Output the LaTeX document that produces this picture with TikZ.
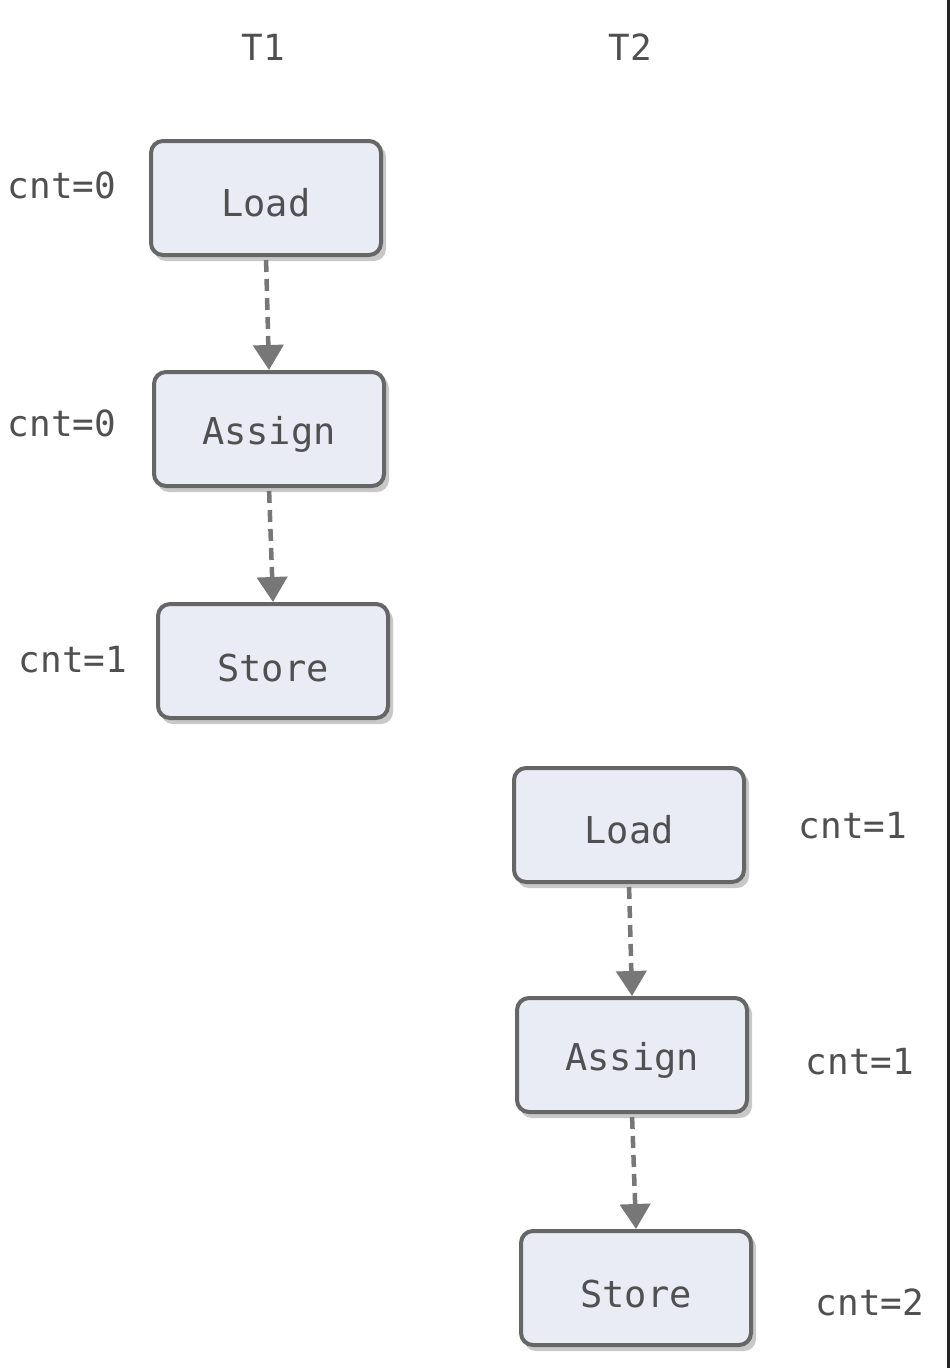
\documentclass[tikz,border=0pt]{standalone}
\usepackage{fontspec}
\setmonofont{DejaVu Sans Mono}
\usetikzlibrary{arrows.meta}
\definecolor{boxfill}{HTML}{E9ECF5}
\definecolor{boxline}{HTML}{666666}
\definecolor{txt}{HTML}{505050}
\definecolor{arr}{HTML}{777777}
\definecolor{shad}{HTML}{C8C8C8}
\tikzset{
  opbox/.style={draw=boxline, fill=boxfill, line width=4pt, rounded corners=12pt,
    minimum width=230pt, minimum height=114pt, inner sep=0pt},
  boxtxt/.style={font=\ttfamily\fontsize{37}{40}\selectfont, text=txt, inner sep=0pt},
  opshadow/.style={fill=shad, rounded corners=12pt, minimum width=232pt, minimum height=116pt, inner sep=0pt},
  lbl/.style={font=\ttfamily\fontsize{36}{40}\selectfont, text=txt, inner sep=0pt},
  flow/.style={draw=arr, line width=4.5pt, dash pattern=on 12pt off 7pt,
    -{Triangle[width=30pt,length=25pt]}, shorten <=3pt},
}
\begin{document}
\begin{tikzpicture}[x=1pt,y=-1pt]
\useasboundingbox (0,0) rectangle (950,1368);
\fill[white] (0,0) rectangle (950,1368);
\fill[black!85] (947,0) rectangle (950,1368);

% headers
\node[lbl] (t1) at (263,47) {T1};
\node[lbl] (t2) at (630,47) {T2};

% shadows
\foreach \x/\y in {266/198, 269/429, 273/661, 629/825, 632/1055, 636/1288}
  \node[opshadow] at (\x+4,\y+5) {};

% boxes
\node[opbox] (l1) at (266,198) {};
\node[opbox] (a1) at (269,429) {};
\node[opbox] (s1) at (273,661) {};
\node[opbox] (l2) at (629,825) {};
\node[opbox] (a2) at (632,1055) {};
\node[opbox] (s2) at (636,1288) {};

% box texts
\node[boxtxt] (l1t) at ([yshift=-5pt]l1.center) {Load};
\node[boxtxt] (a1t) at ([yshift=-5pt]a1.center) {Assign};
\node[boxtxt] (s1t) at ([yshift=-7pt]s1.center) {Store};
\node[boxtxt] (l2t) at ([yshift=-5pt]l2.center) {Load};
\node[boxtxt] (a2t) at ([yshift=-5pt]a2.center) {Assign};
\node[boxtxt] (s2t) at ([yshift=-6pt]s2.center) {Store};

% arrows
\draw[flow] (l1.south) -- (a1.north);
\draw[flow] (a1.south) -- (s1.north);
\draw[flow] (l2.south) -- (a2.north);
\draw[flow] (a2.south) -- (s2.north);

% labels
\node[lbl] (c1) at (62,185) {cnt=0};
\node[lbl] (c2) at (62,423) {cnt=0};
\node[lbl] (c3) at (73,660) {cnt=1};
\node[lbl] (c4) at (853,826) {cnt=1};
\node[lbl] (c5) at (860,1062) {cnt=1};
\node[lbl] (c6) at (870,1302) {cnt=2};
\end{tikzpicture}
\end{document}
